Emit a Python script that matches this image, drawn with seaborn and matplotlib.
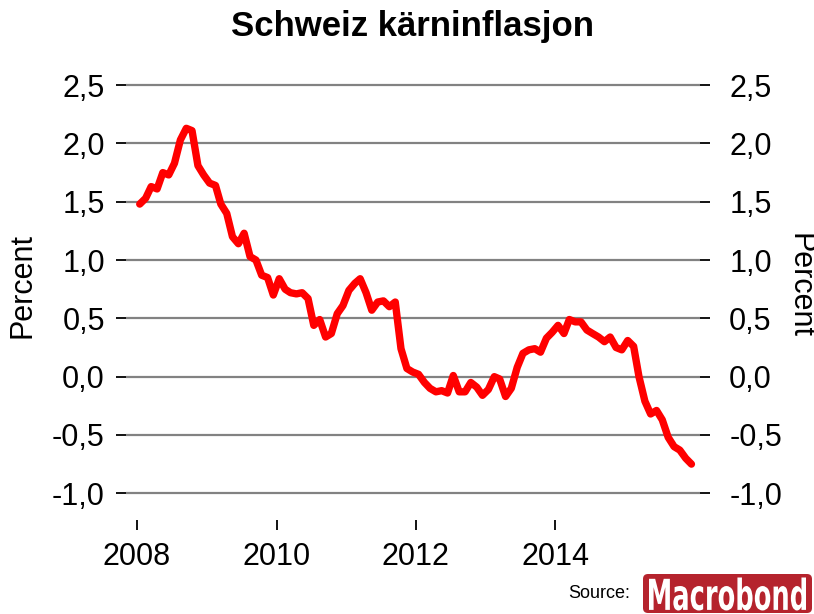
import pandas as pd
import seaborn as sns
import matplotlib.pyplot as plt
from matplotlib.ticker import FuncFormatter
from matplotlib.patches import FancyBboxPatch, PathPatch
from matplotlib.textpath import TextPath
from matplotlib.font_manager import FontProperties
from matplotlib.transforms import Affine2D

# Chart text
title = "Schweiz kärninflasjon"
y_label = "Percent"
source_text = "Source:"
logo_text = "Macrobond"

# Monthly core inflation (%), starting Jan 2008
first_month = "2008-01-01"
core_inflation = [
    1.48, 1.53, 1.63, 1.61, 1.75, 1.73, 1.83, 2.03, 2.13, 2.11, 1.81, 1.73,
    1.66, 1.64, 1.48, 1.40, 1.20, 1.14, 1.23, 1.03, 1.00, 0.87, 0.85, 0.70,
    0.84, 0.75, 0.72, 0.71, 0.72, 0.67, 0.44, 0.49, 0.34, 0.37, 0.54, 0.61,
    0.74, 0.80, 0.84, 0.72, 0.57, 0.64, 0.65, 0.60, 0.64, 0.24, 0.07, 0.04,
    0.02, -0.05, -0.10, -0.13, -0.12, -0.14, 0.01, -0.13, -0.13, -0.05, -0.09, -0.16,
    -0.11, 0.00, -0.02, -0.17, -0.10, 0.08, 0.20, 0.23, 0.24, 0.21, 0.33, 0.38,
    0.44, 0.37, 0.49, 0.47, 0.47, 0.40, 0.37, 0.34, 0.30, 0.34, 0.25, 0.23,
    0.31, 0.26, 0.00, -0.21, -0.32, -0.29, -0.37, -0.52, -0.60, -0.63, -0.70, -0.75,
]

# Axis ticks
year_ticks = ["2008", "2010", "2012", "2014"]
y_ticks = [-1.0, -0.5, 0.0, 0.5, 1.0, 1.5, 2.0, 2.5]

dates = pd.date_range(first_month, periods=len(core_inflation), freq="MS") + pd.Timedelta(days=14)
df = pd.DataFrame({"date": dates, "value": core_inflation})

sns.set_theme(style="white")
plt.rcParams["font.family"] = ["Liberation Sans", "DejaVu Sans"]
plt.rcParams["text.color"] = "black"
plt.rcParams["axes.labelcolor"] = "black"
plt.rcParams["xtick.color"] = "black"
plt.rcParams["ytick.color"] = "black"

fig = plt.figure(figsize=(8.14, 6.14), dpi=100)
ax = fig.add_axes([0.1543, 0.1539, 0.7057, 0.7264])

ax.yaxis.grid(True, color="#828282", linewidth=1.6)
ax.xaxis.grid(False)
ax.set_axisbelow(True)

sns.lineplot(data=df, x="date", y="value", color="#ff0000", linewidth=5.3, ax=ax)

ax.set_ylim(-1.225, 2.6)
ax.set_xlim(pd.Timestamp("2007-11-02"), pd.Timestamp("2016-01-29"))
ax.set_yticks(y_ticks)
comma = FuncFormatter(lambda v, _: f"{v:.1f}".replace(".", ","))
ax.yaxis.set_major_formatter(comma)
ax.set_xticks(pd.to_datetime([f"{y}-01-01" for y in year_ticks]))
ax.set_xticklabels(year_ticks)
ax.set_xlabel("")
ax.set_ylabel(y_label, fontsize=22)
ax.yaxis.set_label_coords(-0.1525, 0.524)

ax.tick_params(axis="x", bottom=True, direction="out", length=7, width=1.3,
               color="black", pad=9, labelsize=22)
ax.tick_params(axis="y", left=True, direction="out", length=7, width=1.3,
               color="black", pad=8, labelsize=22)
for s in ax.spines.values():
    s.set_visible(False)

# right-hand duplicate axis
ax2 = ax.twinx()
ax2.set_ylim(ax.get_ylim())
ax2.set_yticks(y_ticks)
ax2.yaxis.set_major_formatter(comma)
ax2.grid(False)
ax2.tick_params(axis="y", right=True, direction="out", length=7, width=1.3,
                color="black", pad=14, labelsize=22)
ax2.set_ylabel(y_label, fontsize=22, rotation=270, va="bottom")
ax2.yaxis.set_label_coords(1.1462, 0.524)
for s in ax2.spines.values():
    s.set_visible(False)

ax.set_title(title, fontsize=25, fontweight="bold", pad=27)

# Source + logo
fig.text(630 / 814, 1 - 593 / 614, source_text, fontsize=13, ha="right", va="center")
logo = fig.add_axes([643 / 814, 1 / 614, 169 / 814, 39 / 614])
logo.set_xlim(0, 169)
logo.set_ylim(0, 39)
logo.axis("off")
logo.add_patch(FancyBboxPatch((0, 0), 169, 39, boxstyle="round,pad=0,rounding_size=5",
                              fc="#b5232d", ec="none"))
tp = TextPath((0, 0), logo_text, prop=FontProperties(family="DejaVu Sans", weight="bold"))
bb = tp.get_extents()
tr = Affine2D().translate(-bb.x0, -bb.y0).scale(157 / bb.width, 33 / bb.height).translate(6, 2.5)
logo.add_patch(PathPatch(tr.transform_path(tp), fc="white", ec="none"))

fig.savefig("out.png", dpi=100)
